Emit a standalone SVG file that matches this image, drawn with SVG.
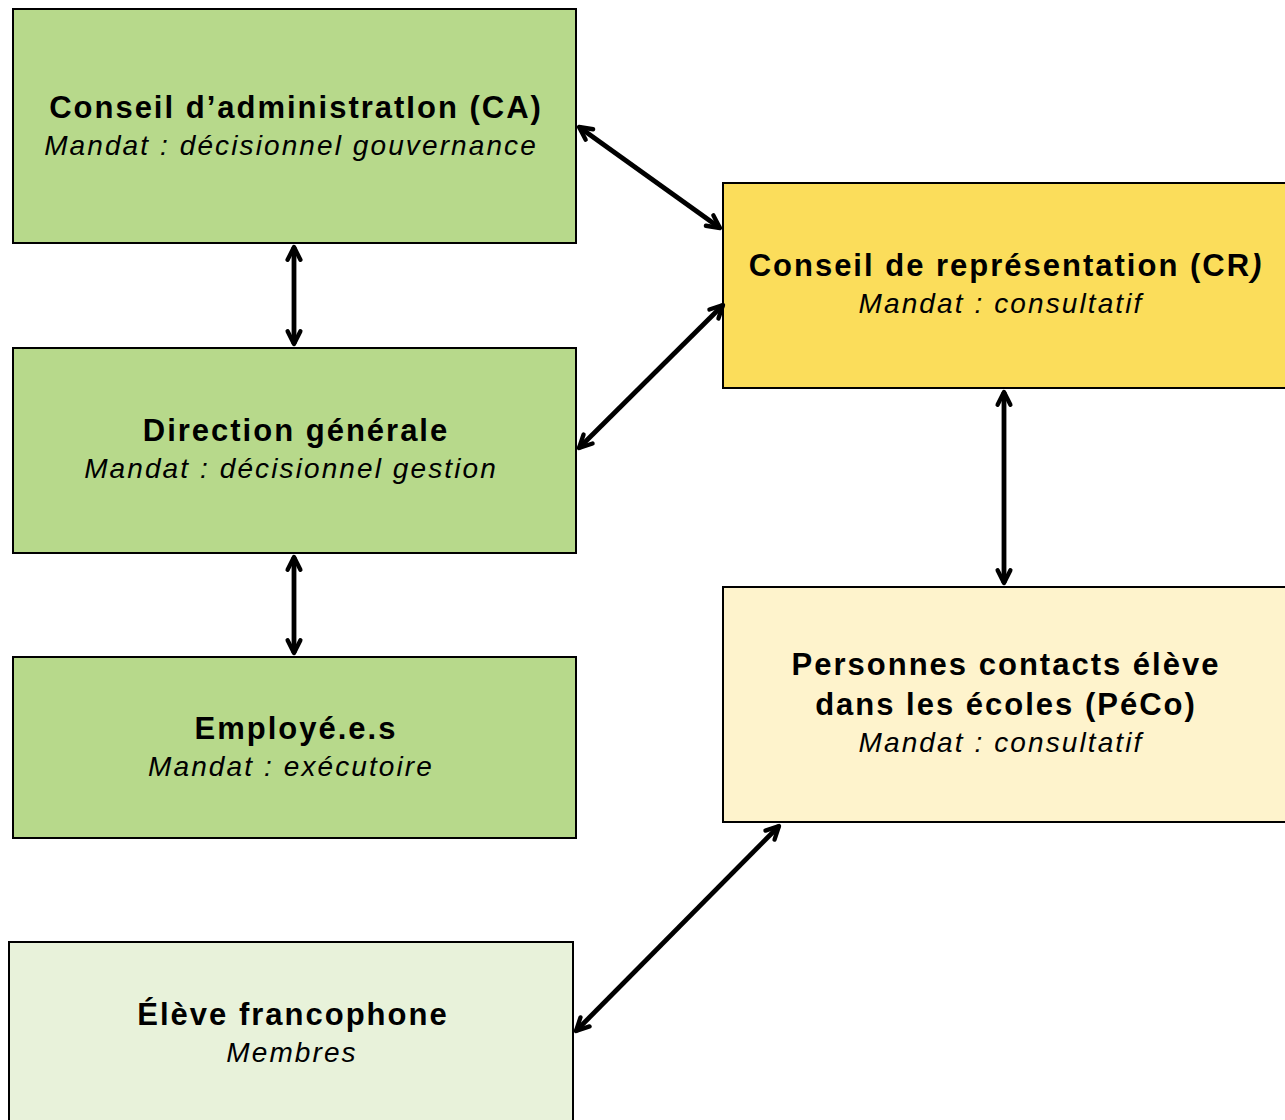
<svg xmlns="http://www.w3.org/2000/svg" width="1285" height="1120" viewBox="0 0 1285 1120">
<defs>
<style>
.box{stroke:#000;stroke-width:2}
.t{font-family:"Liberation Sans",Arial,sans-serif;font-size:31px;font-weight:bold;letter-spacing:2px;text-anchor:middle;fill:#000}
.s{font-family:"Liberation Sans",Arial,sans-serif;font-size:28px;font-style:italic;letter-spacing:2.1px;text-anchor:middle;fill:#000}
.c{stroke:#000;stroke-width:4.8;fill:none;marker-start:url(#a);marker-end:url(#a)}
</style>
<marker id="a" viewBox="0 0 12 12" refX="10" refY="6" markerWidth="4" markerHeight="4" markerUnits="strokeWidth" orient="auto-start-reverse" overflow="visible">
<path d="M2,2 L10,6 L2,10" fill="none" stroke="#000" stroke-width="2.7" stroke-linecap="round" stroke-linejoin="round"/>
</marker>
</defs>
<rect width="1285" height="1120" fill="#fff"/>
<g id="ca">
<rect class="box" x="13" y="9" width="563" height="234" fill="#b7d98b"/>
<text class="t" x="296" y="118">Conseil d’administratIon (CA)</text>
<text class="s" x="291" y="155">Mandat : décisionnel gouvernance</text>
</g>
<g id="dg">
<rect class="box" x="13" y="348" width="563" height="205" fill="#b7d98b"/>
<text class="t" x="296" y="441">Direction générale</text>
<text class="s" x="291" y="478">Mandat : décisionnel gestion</text>
</g>
<g id="emp">
<rect class="box" x="13" y="657" width="563" height="181" fill="#b7d98b"/>
<text class="t" x="296" y="739">Employé.e.s</text>
<text class="s" x="291" y="776">Mandat : exécutoire</text>
</g>
<g id="eleve">
<rect class="box" x="9" y="942" width="564" height="190" fill="#e8f2da"/>
<text class="t" x="293" y="1025">Élève francophone</text>
<text class="s" x="292" y="1062">Membres</text>
</g>
<g id="cr">
<rect class="box" x="723" y="183" width="572" height="205" fill="#fbdd5b"/>
<text class="t" x="1006" y="276">Conseil de représentation (CR<tspan font-style="italic">)</tspan></text>
<text class="s" x="1001" y="313">Mandat : consultatif</text>
</g>
<g id="peco">
<rect class="box" x="723" y="587" width="572" height="235" fill="#fef3cc"/>
<text class="t" x="1006" y="675">Personnes contacts élève</text>
<text class="t" x="1006" y="715">dans les écoles (PéCo)</text>
<text class="s" x="1001" y="752">Mandat : consultatif</text>
</g>
<g id="connectors">
<line class="c" x1="579" y1="127" x2="720" y2="228"/>
<line class="c" x1="294" y1="247" x2="294" y2="344"/>
<line class="c" x1="579" y1="448" x2="723" y2="305"/>
<line class="c" x1="294" y1="557" x2="294" y2="653"/>
<line class="c" x1="1004" y1="392" x2="1004" y2="583"/>
<line class="c" x1="779" y1="826" x2="576" y2="1031"/>
</g>
</svg>
